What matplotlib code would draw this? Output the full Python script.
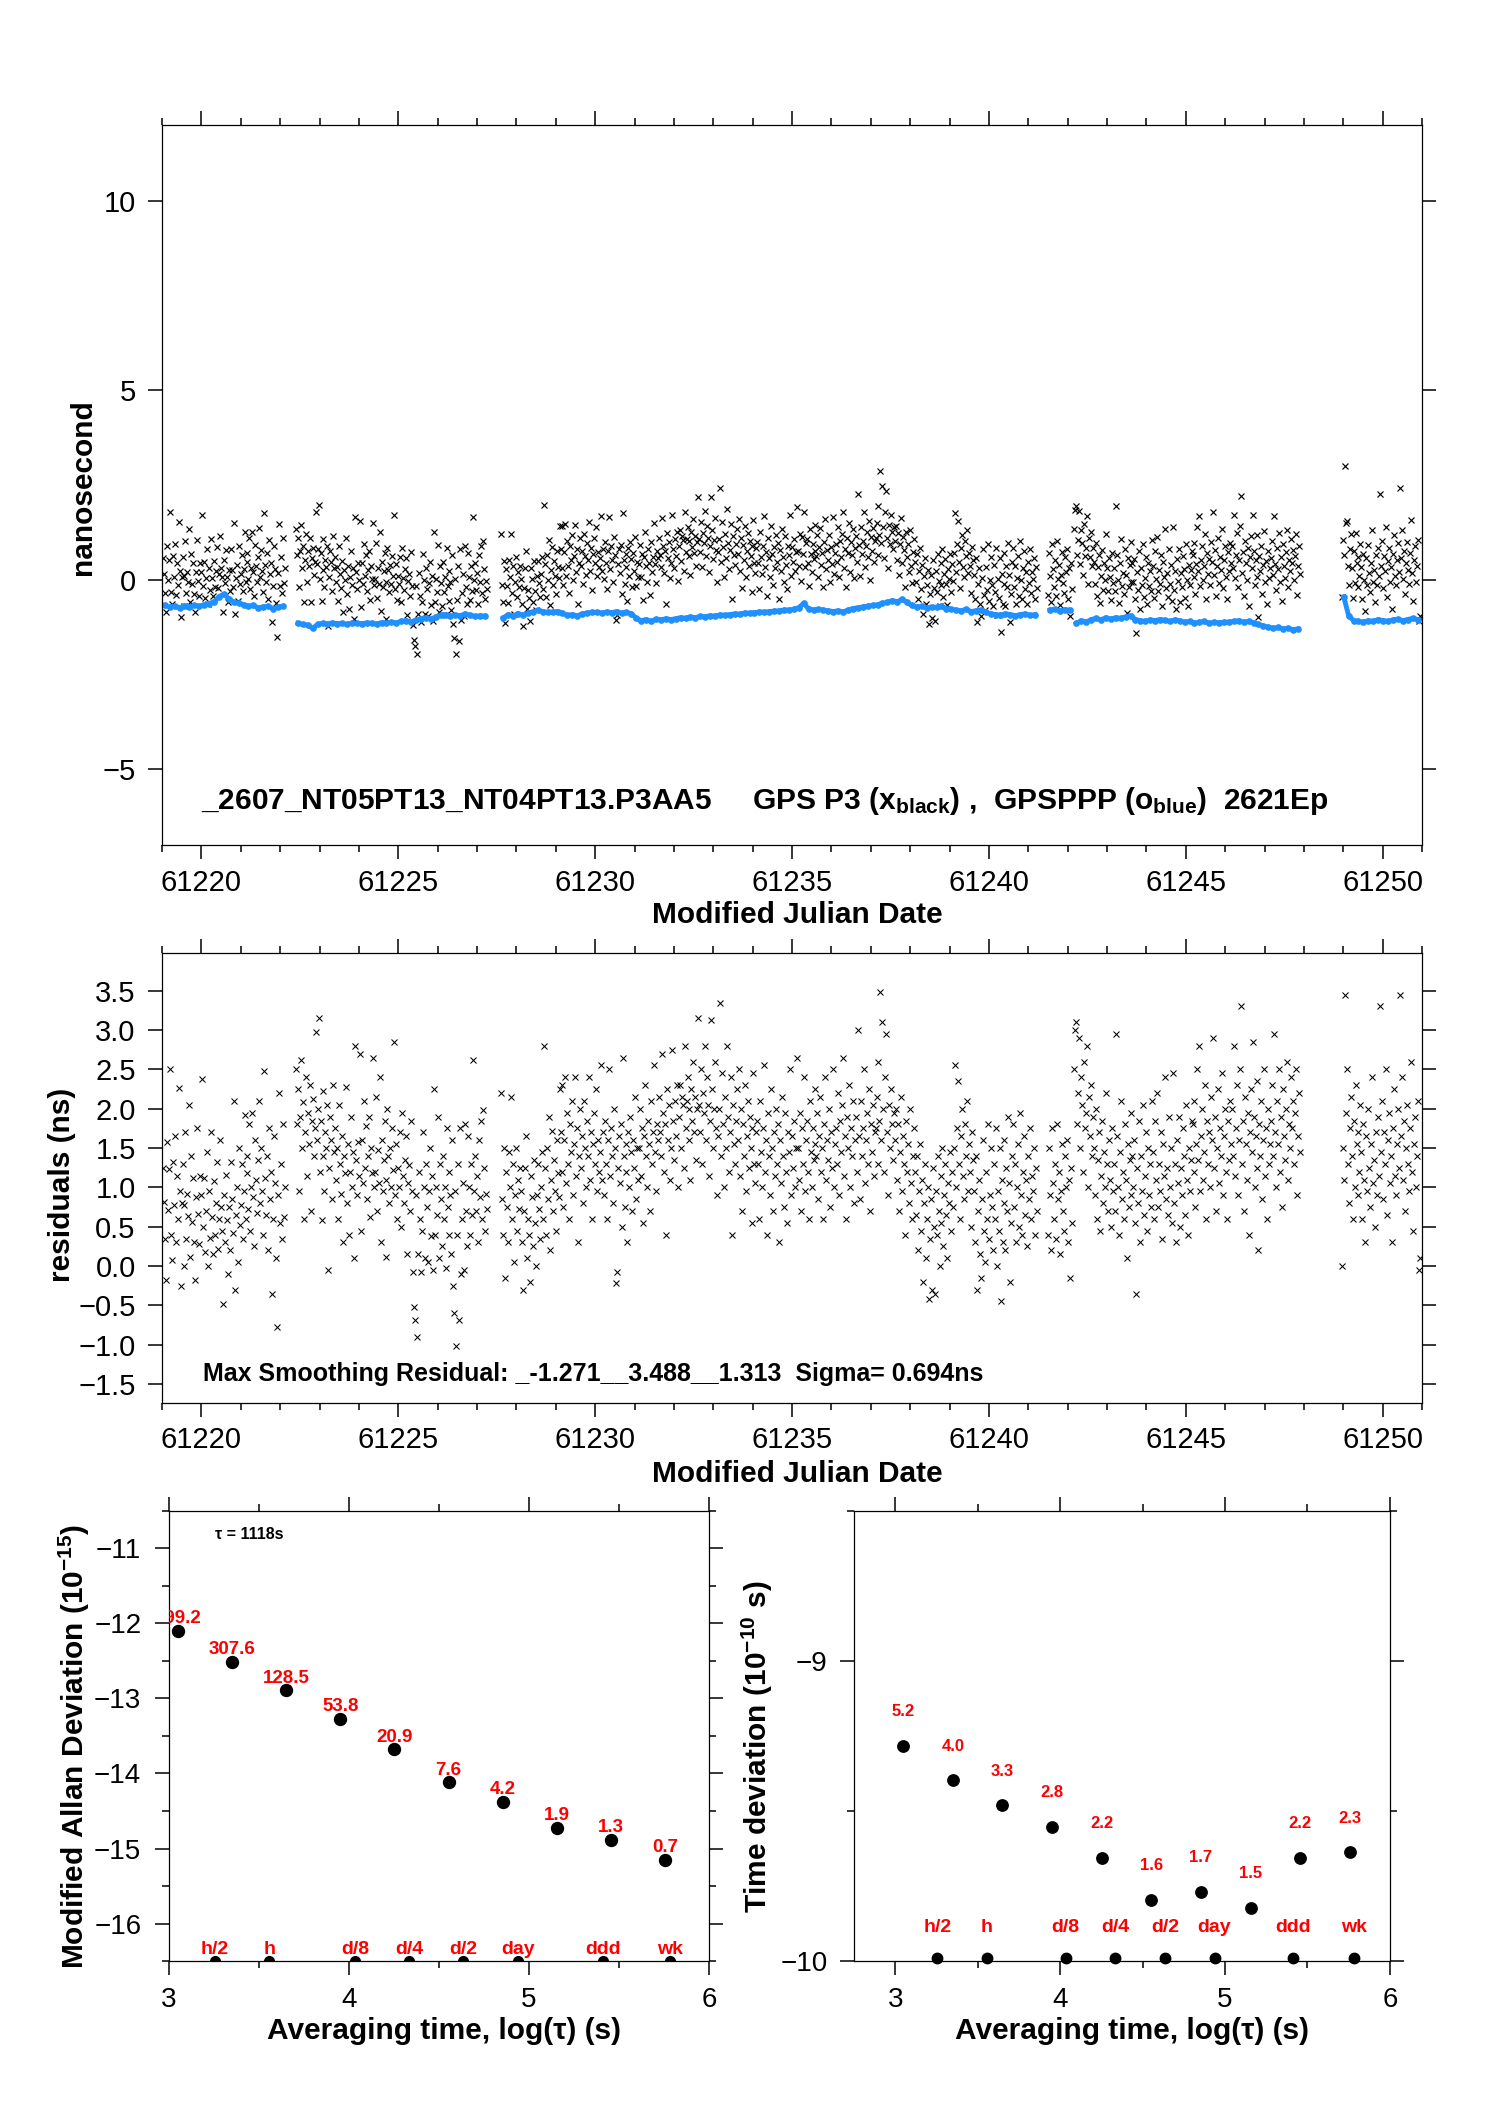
import numpy as np
import matplotlib.pyplot as plt
from matplotlib.ticker import MultipleLocator, NullLocator

plt.rcParams['font.family'] = ['Liberation Sans', 'DejaVu Sans']
plt.rcParams['mathtext.fontset'] = 'custom'
plt.rcParams['mathtext.rm'] = 'Liberation Sans'
plt.rcParams['mathtext.bf'] = 'Liberation Sans:bold'
plt.rcParams['mathtext.it'] = 'Liberation Sans:italic'
plt.rcParams['axes.linewidth'] = 0.9

# ---------------- time series data ----------------
# segment start epochs (MJD), one sample every 36 min
seg_start = [61219.02, 61222.40, 61227.62, 61241.50, 61242.17, 61248.96]
step = 1 / 40.0
blue_per = 5   # one smoothed (GPSPPP) value per 5 samples

# smoothing residuals, units of 0.01 ns
res_a = [125, 82, 34, -18, 158, 71, 124, 250, 40, 8, 132, 78, 165, 30, 115, 60, 226, 96, -25, 80,
         130, 0, 78, 170, 35, 92, 64, 205, 12, 140, 56, 112, 30, -18, 88, 176, 66, 28, 115, 90,
         238, 50, 112, 18, 70, 145, 0, 95, 36, 170, 62, 15, 108, 40, 80, 132, 22, 60, 160, 75,
         45, -48, 90, 30, 116, 58, -10, 75, 20, 132, 85, 42, 210, -30, 65, 100, 5, 150, 52, 78,
         130, 35, 95, 192, 60, 118, 140, 72, 180, 45, 100, 195, 88, 25, 160, 110, 68, 135, 210, 80,
         150, 95, 40, 248, 112, 65, 140, 20, 175, 85, 120, -35, 60, 165, 105, 10, -78, 90, 220, 55,
         130, 35, 180, 62, 100]
res_b = [250, 180, 225, 95, 190, 262, 150, 208, 60, 170, 240, 115, 195, 155, 230, 70, 185, 212, 140, 175,
         298, 160, 200, 315, 120, 185, 58, 140, 222, 95, 170, 150, 205, -5, 125, 190, 160, 85, 230, 145,
         175, 110, 150, 60, 205, 130, 92, 165, 30, 140, 118, 228, 80, 155, 40, 120, 190, 100, 145, 10,
         280, 135, 90, 158, 115, 270, 45, 160, 105, 210, 125, 178, 85, 140, 190, 62, 150, 118, 265, 100,
         120, 215, 70, 148, 105, 240, 30, 160, 95, 135, 185, 12, 110, 200, 140, 80, 150, 100, 175, 122,
         285, 90, 155, 60, 125, 100, 170, 50, 195, 115, 80, 135, 165, 15, 105, 128, 70, 185, 95, -8,
         -52, -68, 90, -90, 15, 120, 60, -8, 45, 170, 100, 10, 130, 75, 5, 95, 150, 38, 115, -5,
         225, 40, 100, 65, 190, 10, 130, 85, 25, 140, 60, 100, -2, 175, 75, 40, 120, 90, 15, 160,
         -25, -60, 95, -102, 40, 130, -68, 175, -10, 60, 105, -5, 180, 70, 25, 165, 100, 40, 130, 65,
         262, 95, 140, 70, 115, 30, 160, 88, 185, 60, 198, 125, 45, 92, 72]
res_c = [220, 85, 40, 150, -15, 120, 75, 30, 145, 100, 215, 60, 130, 5, 90, 150, 45, 110, 72, 125,
         95, 30, -30, 70, 125, 165, 10, 60, 40, -20, 115, 88, 25, 135, 55, 0, 90, 130, 72, 35,
         100, 145, 60, 280, 125, 40, 150, 85, 190, 20, 110, 172, 70, 135, 95, 45, 160, 118, 88, 225,
         170, 230, 120, 75, 160, 240, 105, 195, 130, 60, 180, 145, 210, 90, 155, 240, 115, 175, 30, 140,
         200, 125, 165, 80, 210, 150, 100, 185, 140, 240, 110, 170, 60, 155, 195, 130, 225, 95, 160, 120,
         145, 255, 110, 170, 90, 185, 130, 60, 160, 250, 115, 175, 140, 80, 200, 150, -22, -8, 125, 165,
         105, 180, 50, 265, 140, 75, 155, 120, 30, 170, 100, 190, 145, 70, 160, 125, 215, 85, 150, 110,
         150, 200, 115, 175, 55, 165, 230, 140, 100, 185, 155, 70, 210, 130, 170, 255, 145, 95, 180, 160,
         215, 170, 140, 270, 195, 120, 180, 40, 225, 160, 205, 110, 150, 275, 185, 135, 210, 165, 230, 100,
         190, 230, 150, 215, 205, 125, 280, 175, 210, 240, 160, 200, 110, 225, 185, 260, 170, 215, 135, 200,
         315, 205, 170, 250, 130, 220, 195, 280, 160, 240, 205, 115, 185, 313, 225, 150, 200, 260, 175, 90,
         165, 200, 335, 140, 245, 180, 100, 215, 150, 280, 190, 120, 170, 240, 40, 205, 155, 130, 185, 225,
         160, 250, 115, 200, 70, 180, 140, 230, 95, 165, 210, 125, 190, 150, 55, 175, 245, 130, 105, 170,
         185, 130, 60, 210, 145, 100, 175, 255, 120, 160, 40, 195, 140, 90, 225, 150, 70, 170, 115, 200,
         130, 180, 30, 160, 105, 215, 140, 75, 195, 120, 55, 170, 145, 250, 90, 165, 125, 185, 100, 150,
         265, 150, 110, 195, 70, 175, 130, 240, 95, 160, 185, 120, 60, 210, 145, 100, 175, 135, 225, 155,
         140, 195, 85, 165, 215, 120, 150, 60, 180, 240, 110, 160, 135, 200, 75, 170, 125, 250, 100, 155,
         175, 130, 220, 90, 185, 145, 205, 265, 115, 165, 60, 190, 150, 230, 100, 175, 140, 210, 80, 160,
         190, 120, 300, 165, 85, 210, 140, 175, 250, 105, 160, 195, 130, 225, 70, 180, 145, 205, 115, 170,
         175, 215, 130, 260, 185, 348, 160, 310, 200, 120, 240, 295, 170, 90, 205, 150, 225, 180, 135, 195,
         160, 200, 110, 180, 70, 145, 215, 95, 165, 130, 40, 185, 120, 155, 80, 200, 105, 60, 140, 175,
         120, 65, 140, 20, 95, 155, 45, 110, -20, 80, 130, 10, 60, 100, -42, 35, 85, -30, 125, 50,
         -35, 95, 40, 140, 70, 0, 115, 55, 150, 25, 90, 130, 65, 10, 105, 80, 145, 45, 120, 75,
         150, 255, 100, 175, 235, 130, 60, 165, 200, 115, 85, 180, 140, 210, 95, 155, 120, 50, 170, 135,
         95, 30, 140, -30, 70, 110, 15, -15, 85, 160, 45, 5, 120, 60, 180, 35, 90, 150, 75, 20,
         130, 60, 175, 0, 95, 45, 150, -45, 110, 30, 80, 160, 20, 125, 70, 190, 105, -20, 55, 140,
         180, 75, 130, 30, 100, 155, 50, 195, 90, 40, 120, 165, 65, 110, 25, 140, 85, 175, 60, 115,
         95, 150, 40, 125, 70]
res_d = [40, 150, 90, 20, 175, 105, 60, 130, 35, 180, 85, 120, 15, 95, 155, 70, 45, 140, 100, 160,
         30, 110, -15, 125, 55]
res_e = [250, 300, 310, 180, 220, 290, 150, 240, 205, 120, 260, 175, 195, 280, 100, 215, 165, 230, 140, 190,
         150, 90, 200, 60, 135, 170, 45, 115, 185, 80, 145, 100, 220, 130, 70, 160, 110, 50, 175, 95,
         130, 70, 295, 165, 100, 40, 145, 210, 85, 120, 60, 180, 110, 10, 155, 75, 135, 195, 90, 140,
         100, 160, 55, -35, 125, 80, 185, 30, 140, 95, 205, 65, 115, 170, 45, 150, 90, 130, 75, 210,
         145, 60, 185, 110, 220, 75, 130, 95, 170, 35, 155, 115, 240, 85, 125, 65, 190, 100, 150, 55,
         245, 80, 130, 30, 160, 105, 190, 50, 125, 90, 175, 140, 65, 205, 110, 40, 150, 95, 135, 185,
         180, 120, 210, 75, 155, 250, 135, 280, 95, 165, 200, 110, 145, 230, 60, 185, 130, 170, 100, 215,
         160, 290, 125, 190, 70, 150, 225, 105, 175, 140, 245, 90, 165, 200, 120, 60, 185, 135, 210, 155,
         200, 140, 280, 115, 175, 230, 90, 160, 250, 330, 130, 185, 70, 215, 155, 110, 195, 40, 170, 225,
         145, 285, 190, 100, 165, 235, 125, 20, 180, 140, 210, 85, 160, 250, 115, 175, 60, 200, 130, 155,
         185, 230, 140, 295, 170, 100, 210, 155, 250, 120, 190, 75, 225, 165, 135, 200, 260, 110, 180, 150,
         240, 175, 210, 130, 195, 250, 90, 165, 220, 145]
res_f = [0, 150, 110, 345, 195, 250, 130, 80, 175, 215, 140, 60, 185, 100, 230, 155, 90, 170, 120, 205,
         145, 60, 180, 110, 30, 165, 95, 200, 125, 75, 155, 240, 105, 135, 50, 170, 90, 190, 115, 330,
         145, 210, 85, 170, 130, 250, 65, 160, 195, 105, 140, 30, 175, 225, 115, 90, 155, 200, 125, 345,
         165, 240, 110, 185, 70, 150, 205, 130, 95, 175, 260, 120, 45, 155, 190, 100, 140, 210, -5, 10]

# GPSPPP (blue) values in ns, one per 3 h
blue_a = [-0.68, -0.72, -0.70, -0.74, -0.69, -0.71, -0.68, -0.70, -0.66, -0.63, -0.58, -0.45, -0.38,
          -0.50, -0.60, -0.62, -0.66, -0.70, -0.68, -0.74, -0.72, -0.70, -0.76, -0.72, -0.70]
blue_b = [-1.15, -1.18, -1.20, -1.28, -1.18, -1.15, -1.17, -1.14, -1.16, -1.15, -1.18, -1.14,
          -1.15, -1.16, -1.14, -1.15, -1.17, -1.13, -1.15, -1.12, -1.14, -1.10, -1.08, -1.12, -1.06,
          -1.03, -1.00, -1.04, -0.98, -0.94, -0.92, -0.96, -0.93, -0.95, -0.90, -0.94, -0.97, -0.95, -0.96]
blue_c = [-1.00, -0.92, -0.95,
          -0.90, -0.93, -0.88, -0.85, -0.80, -0.84, -0.86, -0.85,
          -0.84, -0.88, -0.94, -0.92, -0.95, -0.90, -0.88, -0.86,
          -0.86, -0.88, -0.85, -0.87, -0.84, -0.88, -0.86, -0.90,
          -1.02, -1.08, -1.05, -1.10, -1.04, -1.06, -1.03, -1.05,
          -1.03, -1.00, -1.02, -0.98, -1.00, -0.97, -0.98, -0.95,
          -0.96, -0.93, -0.94, -0.92, -0.90, -0.91, -0.88, -0.88,
          -0.87, -0.85, -0.86, -0.84, -0.83, -0.82, -0.80, -0.80,
          -0.78, -0.74, -0.62, -0.77, -0.80, -0.78, -0.80, -0.82,
          -0.84, -0.82, -0.85, -0.80, -0.76, -0.74, -0.72, -0.70,
          -0.68, -0.66, -0.62, -0.60, -0.55, -0.58, -0.52, -0.60,
          -0.68, -0.72, -0.70, -0.74, -0.72, -0.73, -0.70, -0.76,
          -0.78, -0.80, -0.82, -0.78, -0.84, -0.82, -0.80, -0.86,
          -0.90, -0.92, -0.94, -0.90, -0.92, -0.95, -0.92, -0.90, -0.94, -0.92]
blue_d = [-0.80, -0.78, -0.82, -0.79, -0.80]
blue_e = [-1.15, -1.08, -1.12, -1.05, -1.02, -1.06, -1.00,
          -1.04, -1.00, -1.02, -0.98, -0.95, -1.05, -1.08, -1.10,
          -1.06, -1.08, -1.05, -1.07, -1.10, -1.06, -1.08, -1.12,
          -1.10, -1.14, -1.12, -1.10, -1.15, -1.12, -1.14, -1.12,
          -1.12, -1.10, -1.08, -1.12, -1.10, -1.14, -1.18, -1.22,
          -1.25, -1.28, -1.26, -1.30, -1.28, -1.32, -1.30]
blue_f = [-0.45, -0.95, -1.08, -1.10, -1.12, -1.08, -1.10, -1.05, -1.08, -1.10, -1.06, -1.04,
          -1.08, -1.05, -1.02, -1.05]

res_all = [res_a, res_b, res_c, res_d, res_e, res_f]
blue_all = [blue_a, blue_b, blue_c, blue_d, blue_e, blue_f]

# ---------------- stability data ----------------
taus = [1118, 2236, 4472, 8944, 17888, 35776, 71552, 143104, 286208, 572416]   # s
mdev = [799.2, 307.6, 128.5, 53.8, 20.9, 7.6, 4.2, 1.9, 1.3, 0.7]              # 1e-15
tdev = [5.2, 4.0, 3.3, 2.8, 2.2, 1.6, 1.7, 1.5, 2.2, 2.3]                      # 1e-10 s
mark_names = ['h/2', 'h', 'd/8', 'd/4', 'd/2', 'day', 'ddd', 'wk']
mark_secs = [1800, 3600, 10800, 21600, 43200, 86400, 259200, 604800]

BLUE = '#1E90FF'
RED = '#FF0000'


def style(ax, size=21):
    ax.tick_params(which='both', direction='out', top=True, right=True,
                   width=1.1, labelsize=size)
    ax.tick_params(which='major', length=10)
    ax.tick_params(which='minor', length=5)


fig = plt.figure(figsize=(14.88, 21.05), dpi=100)
ax1 = fig.add_axes([0.1089, 0.5986, 0.8468, 0.3420])
ax2 = fig.add_axes([0.1089, 0.3335, 0.8468, 0.2138])
ax3 = fig.add_axes([0.1136, 0.0684, 0.3629, 0.2138])
ax4 = fig.add_axes([0.5739, 0.0684, 0.3602, 0.2138])

# ---- top: raw P3 and PPP ----
for t0, r, b in zip(seg_start, res_all, blue_all):
    r = np.array(r) / 100.0
    b = np.array(b)
    t = t0 + np.arange(len(r)) * step
    idx = np.minimum(np.arange(len(r)) // blue_per, len(b) - 1)
    ax1.plot(t, b[idx] + r, 'x', color='k', ms=5, mew=0.85)
    tb = t0 + (np.arange(len(b)) * blue_per + 2) * step
    ax1.plot(tb, b, '-o', color=BLUE, lw=3.5, ms=3.8)
    ax2.plot(t, r, 'x', color='k', ms=4.8, mew=0.75)

for ax in (ax1, ax2):
    ax.set_xlim(61219, 61251)
    ax.xaxis.set_major_locator(MultipleLocator(5))
    ax.xaxis.set_minor_locator(MultipleLocator(1))
    ax.ticklabel_format(axis='x', useOffset=False)
    style(ax)
    ax.set_xlabel('Modified Julian Date', fontsize=21.5, fontweight='bold')

ax1.set_ylim(-7, 12)
ax1.yaxis.set_major_locator(MultipleLocator(5))
ax1.yaxis.set_minor_locator(NullLocator())
ax1.set_ylabel('nanosecond', fontsize=21.5, fontweight='bold')
ax1.tick_params(axis='x', pad=7.5)
ax1.tick_params(axis='y', pad=9)
ax1.xaxis.set_label_coords(0.504, -0.078)
ax1.yaxis.set_label_coords(-0.052, 0.497)
ax1.text(61220.0, -6.04,
         '_2607_NT05PT13_NT04PT13.P3AA5     GPS P3 (x$_{\\mathbf{black}}$) ,  '
         'GPSPPP (o$_{\\mathbf{blue}}$)  2621Ep',
         fontsize=21.5, fontweight='bold', va='baseline')

ax2.set_ylim(-1.74, 3.98)
ax2.yaxis.set_major_locator(MultipleLocator(0.5))
ax2.yaxis.set_minor_locator(NullLocator())
ax2.set_ylabel('residuals (ns)', fontsize=21.5, fontweight='bold')
ax2.tick_params(axis='x', pad=6.5)
ax2.tick_params(axis='y', pad=9)
ax2.xaxis.set_label_coords(0.504, -0.126)
ax2.yaxis.set_label_coords(-0.068, 0.484)
ax2.text(61220.03, -1.46,
         'Max Smoothing Residual: _-1.271__3.488__1.313  Sigma= 0.694ns',
         fontsize=18, fontweight='bold', va='baseline')

# ---- bottom left: modified Allan deviation ----
lt = np.log10(taus)
lm = np.log10(np.array(mdev) * 1e-15)
ax3.plot(lt, lm, 'o', color='k', ms=8.6)
for x, y, v in zip(lt, lm, mdev):
    ax3.annotate('%.1f' % v, (x, y), xytext=(0, 5.5), textcoords='offset points',
                 ha='center', va='baseline', color=RED, fontsize=13.5,
                 fontweight='bold', annotation_clip=False, clip_on=True)
lmk = np.log10(mark_secs)
ax3.plot(lmk, np.full(len(lmk), -16.5), 'o', color='k', ms=7)
for x, name in zip(lmk, mark_names):
    ax3.annotate(name, (x, -16.5), xytext=(0, 5), textcoords='offset points',
                 ha='center', va='baseline', color=RED, fontsize=14, fontweight='bold')
ax3.text(3.256, -10.87, 'τ = 1118s', fontsize=11.5, fontweight='bold', va='baseline')
ax3.set_xlim(3, 6)
ax3.set_ylim(-16.5, -10.5)
ax3.xaxis.set_major_locator(MultipleLocator(1))
ax3.xaxis.set_minor_locator(MultipleLocator(0.5))
ax3.yaxis.set_major_locator(MultipleLocator(1))
ax3.yaxis.set_minor_locator(MultipleLocator(0.5))
style(ax3, 20)
ax3.tick_params(axis='x', pad=8.5)
ax3.tick_params(axis='y', pad=10)
ax3.set_xlabel('Averaging time, log(τ) (s)', fontsize=21.5, fontweight='bold')
ax3.set_ylabel('Modified Allan Deviation (10$^{\\mathbf{-15}}$)', fontsize=21.5, fontweight='bold')
ax3.xaxis.set_label_coords(0.509, -0.124)
ax3.yaxis.set_label_coords(-0.143, 0.476)

# ---- bottom right: time deviation ----
ld = np.log10(np.array(tdev) * 1e-10)
ax4.plot(lt, ld, 'o', color='k', ms=8.2)
for x, y, v in zip(lt, ld, tdev):
    ax4.annotate('%.1f' % v, (x, y), xytext=(0, 21.5), textcoords='offset points',
                 ha='center', va='baseline', color=RED, fontsize=12, fontweight='bold')
ax4.plot(lmk, np.full(len(lmk), -9.99), 'o', color='k', ms=7.5, clip_on=False)
for x, name in zip(lmk, mark_names):
    ax4.annotate(name, (x, -10), xytext=(0, 21), textcoords='offset points',
                 ha='center', va='baseline', color=RED, fontsize=14, fontweight='bold')
ax4.set_xlim(2.75, 6)
ax4.set_ylim(-10, -8.5)
ax4.xaxis.set_major_locator(MultipleLocator(1))
ax4.xaxis.set_minor_locator(MultipleLocator(0.5))
ax4.yaxis.set_major_locator(MultipleLocator(1))
ax4.yaxis.set_minor_locator(MultipleLocator(0.5))
style(ax4, 20)
ax4.tick_params(axis='x', pad=8.5)
ax4.tick_params(axis='y', pad=9)
ax4.set_xlabel('Averaging time, log(τ) (s)', fontsize=21.5, fontweight='bold')
ax4.set_ylabel('Time deviation (10$^{\\mathbf{-10}}$ s)', fontsize=21.5, fontweight='bold')
ax4.xaxis.set_label_coords(0.518, -0.124)
ax4.yaxis.set_label_coords(-0.147, 0.476)

fig.savefig('out.png', dpi=100)
